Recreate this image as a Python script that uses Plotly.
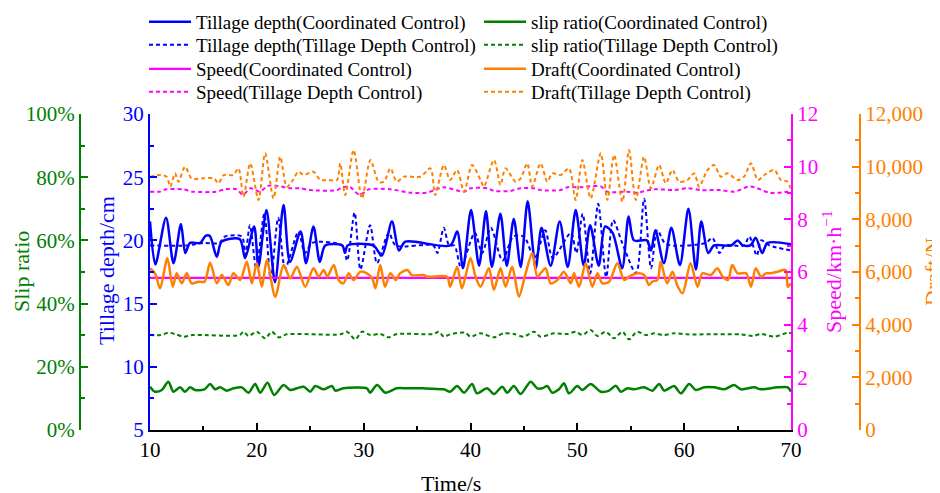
import plotly.graph_objects as go

# ---------------- data ----------------
t_depth_cc = [10.0, 10.5, 11.5, 12.2, 12.9, 13.3, 13.75, 14.7, 15.2, 15.6,
              16.25, 16.7, 18.4, 18.9, 19.75, 20.15, 20.9, 21.7, 22.5, 23.1,
              24.1, 24.6, 25.3, 25.9, 26.4, 28.0, 28.25, 28.5, 30.9, 31.7,
              32.65, 33.3, 33.9, 38.1, 38.75, 39.3, 40.05, 40.8, 41.45, 42.0,
              42.8, 43.4, 44.05, 44.7, 45.35, 46.1, 46.65, 47.5, 48.35, 49.1,
              49.85, 50.6, 51.2, 52.0, 52.6, 53.3, 54.2, 54.8, 55.3, 56.5,
              56.9, 57.3, 58.1, 58.8, 59.6, 60.4, 61.1, 61.6, 62.25, 62.8,
              64.4, 65.0, 65.5, 66.2, 66.7, 67.3, 67.8, 70.0]
depth_cc = [21.5, 18.1, 21.8, 18.2, 21.3, 19.0, 19.8, 19.8, 20.35, 20.35,
            18.7, 19.9, 20.1, 18.6, 21.1, 17.9, 22.4, 16.7, 22.8, 18.3,
            20.7, 18.2, 21.1, 18.3, 19.6, 19.6, 19.0, 19.6, 19.6, 18.8,
            21.5, 19.2, 19.9, 19.6, 20.7, 17.8, 22.4, 18.0, 22.3, 17.9,
            22.1, 18.0, 21.7, 17.9, 23.1, 17.8, 21.0, 18.0, 21.5, 17.9,
            22.4, 18.0, 21.2, 18.0, 21.1, 20.6, 17.8, 21.9, 20.0, 20.0,
            19.2, 20.8, 18.2, 21.0, 18.05, 22.5, 17.7, 21.5, 19.0, 19.6,
            19.6, 20.0, 19.6, 19.6, 20.2, 19.0, 19.8, 19.7]

t_depth_tdc = [10, 13.5, 15.0, 16.5, 17.0, 18.6, 18.9, 19.35, 19.95, 20.7,
               21.3, 22.0, 22.65, 23.9, 24.5, 25.2, 28.0, 28.45, 29.15, 29.7,
               30.6, 31.25, 32.35, 33.0, 36.5, 36.9, 37.5, 38.0, 38.5, 39.1,
               40.4, 41.1, 41.9, 43.0, 44.0, 45.0, 46.0, 47.0, 47.7, 49.4,
               49.9, 50.5, 51.2, 51.95, 52.7, 53.35, 54.2, 55.5, 56.25, 56.9,
               57.5, 58.3, 62.0, 62.65, 63.3, 63.8, 65.6, 66.1, 66.8, 67.2,
               68.0, 70.0]
depth_tdc = [19.6, 19.6, 19.8, 19.8, 20.3, 20.3, 18.6, 21.2, 17.8, 22.1,
             16.9, 21.8, 17.8, 20.7, 19.0, 19.8, 19.6, 18.4, 22.2, 17.7,
             21.2, 18.2, 20.6, 19.6, 19.6, 19.0, 21.0, 19.6, 19.6, 17.9,
             20.6, 19.0, 21.0, 18.4, 20.3, 20.3, 18.6, 20.8, 18.6, 20.6,
             19.0, 22.1, 17.4, 22.9, 17.1, 21.6, 19.8, 17.4, 23.3, 17.8,
             20.8, 19.7, 19.8, 20.2, 19.0, 19.6, 19.6, 20.3, 18.8, 20.0,
             19.6, 19.2]

t_slip_cc = [10.0, 10.47, 11.1, 11.72, 12.19, 12.81, 13.28, 13.75, 14.22, 15.1,
             15.63, 16.1, 16.56, 17.19, 17.81, 18.6, 19.22, 19.84, 20.31, 21.0,
             21.63, 22.5, 23.13, 23.75, 24.38, 25.0, 25.47, 26.25, 27.03, 27.34,
             28.1, 30.3, 30.6, 31.25, 32.03, 33.1, 34.1, 35.5, 37.5, 38.1,
             38.75, 39.4, 40.15, 40.6, 41.56, 42.2, 42.97, 43.44, 44.06, 44.69,
             45.63, 46.25, 46.72, 47.19, 47.65, 48.28, 48.75, 49.22, 50.0, 50.47,
             51.25, 52.19, 52.97, 53.6, 54.06, 54.69, 55.31, 56.25, 57.03, 57.66,
             58.13, 59.06, 59.69, 60.47, 61.09, 61.88, 62.81, 63.75, 64.69, 65.31,
             66.56, 67.19, 68.75, 69.69, 70.0]
slip_cc = [13.71, 12.13, 12.66, 15.3, 12.13, 13.5, 12.13, 13.5, 12.66, 12.87,
           14.56, 12.87, 13.5, 12.45, 13.19, 13.5, 11.81, 14.56, 11.81, 14.98,
           11.08, 14.24, 12.66, 13.19, 13.71, 12.13, 13.92, 12.87, 13.92, 12.45,
           13.19, 13.19, 11.81, 14.24, 11.81, 13.19, 13.19, 13.19, 12.87, 12.13,
           13.92, 11.81, 14.56, 11.6, 13.19, 11.39, 13.71, 11.81, 13.92, 11.39,
           15.3, 13.19, 13.19, 13.92, 11.81, 12.87, 14.77, 11.6, 13.92, 12.66,
           14.56, 12.13, 12.45, 14.03, 12.13, 13.19, 12.87, 13.5, 12.45, 14.56,
           12.45, 13.92, 11.6, 14.56, 12.66, 13.5, 13.5, 12.87, 14.24, 12.87,
           13.5, 12.87, 13.5, 13.5, 12.13]

t_slip_tdc = [10.0, 11.0, 11.72, 12.34, 13.13, 14.0, 18.4, 18.75, 19.22, 20.0,
              20.78, 21.4, 22.03, 22.8, 27.8, 28.44, 29.22, 29.84, 30.63, 31.56,
              32.34, 33.1, 36.56, 37.03, 37.5, 38.1, 39.5, 40.0, 40.94, 42.2,
              43.1, 44.06, 45.0, 45.94, 46.56, 47.8, 49.06, 49.84, 50.47, 51.25,
              51.88, 52.66, 53.44, 54.22, 54.84, 55.6, 56.4, 57.2, 58.1, 59.06,
              60.3, 65.3, 66.4, 67.2, 68.44, 69.7, 70.0]
slip_tdc = [30.06, 30.06, 30.8, 30.38, 29.54, 30.06, 30.06, 31.12, 29.75, 31.12,
            29.0, 31.12, 29.32, 30.27, 30.27, 31.12, 28.69, 31.12, 30.06, 30.38,
            29.32, 30.38, 30.38, 31.12, 29.54, 30.27, 30.8, 29.54, 30.59, 29.32,
            30.59, 30.38, 29.54, 31.12, 29.54, 30.59, 30.38, 31.12, 30.06, 31.65,
            29.75, 31.12, 29.0, 31.12, 28.69, 31.12, 30.06, 30.59, 30.06, 30.59,
            30.27, 30.27, 29.75, 30.38, 29.54, 30.8, 30.6]

t_speed_cc = [10, 20, 30, 40, 50, 60, 70]
speed_cc = [5.78, 5.78, 5.78, 5.78, 5.78, 5.78, 5.78]

t_speed_tdc = [10, 10.9, 11.5, 13.1, 14.0, 16.2, 17.0, 18.1, 18.7, 19.4,
               20.3, 21.0, 21.9, 23.1, 24.0, 25.0, 27.5, 28.0, 28.75, 29.6,
               30.5, 32.5, 34.4, 35.9, 36.6, 37.5, 39.4, 40.0, 41.6, 42.2,
               43.75, 44.7, 45.9, 46.6, 48.4, 49.1, 50.3, 50.9, 52.2, 52.8,
               54.7, 55.5, 57.2, 59.1, 60.3, 61.6, 63.4, 64.7, 66.2, 68.0,
               69.7, 70.0]
speed_tdc = [9.05, 9.05, 9.14, 9.14, 9.05, 9.05, 9.14, 9.14, 8.93, 9.18,
             9.05, 9.27, 9.27, 9.18, 9.18, 9.11, 9.11, 9.22, 9.22, 8.93,
             9.14, 9.14, 9.01, 9.01, 9.11, 9.22, 9.05, 9.18, 9.18, 9.08,
             9.08, 9.18, 9.18, 9.11, 9.11, 9.22, 9.22, 9.25, 9.25, 9.05,
             9.05, 9.01, 9.14, 9.11, 9.18, 9.11, 9.11, 9.05, 9.25, 9.01,
             9.05, 9.08]

t_draft_cc = [10.0, 10.47, 10.94, 11.63, 12.13, 12.5, 12.97, 13.44, 13.9, 14.53,
              15.1, 15.63, 16.25, 16.72, 17.34, 17.81, 18.44, 19.06, 19.53, 20.0,
              20.47, 20.94, 21.72, 22.5, 23.13, 23.75, 24.53, 25.3, 25.8, 26.25,
              26.6, 27.2, 27.65, 28.1, 28.6, 29.05, 29.7, 30.3, 30.8, 31.1,
              31.55, 32.0, 32.5, 33.0, 33.4, 34.1, 34.5, 35.6, 36.0, 37.8,
              38.1, 38.75, 39.2, 40.0, 40.47, 40.94, 41.72, 42.19, 42.81, 43.28,
              43.9, 44.53, 45.16, 45.78, 46.25, 46.56, 47.03, 47.5, 48.13, 48.75,
              49.38, 49.69, 50.16, 50.78, 51.4, 51.88, 52.34, 52.97, 53.75, 54.38,
              54.84, 55.6, 56.25, 56.7, 57.0, 57.5, 57.8, 58.4, 58.9, 59.4,
              59.85, 60.6, 61.25, 61.7, 62.5, 63.1, 63.6, 64.1, 64.5, 65.0,
              65.8, 66.25, 66.7, 67.2, 67.65, 68.1, 68.75, 69.5, 69.7, 70.0]
draft_cc = [6139, 5949, 5379, 6519, 5442, 5949, 5569, 5949, 5569, 5632,
            5632, 6354, 5569, 5885, 5505, 5949, 5695, 6392, 5569, 6329,
            5442, 6455, 5063, 6265, 5759, 6202, 5442, 6139, 5822, 6075,
            5822, 6265, 5695, 5569, 5949, 5695, 6012, 5949, 5759, 5379,
            6265, 5442, 5949, 5695, 5949, 6075, 5885, 5885, 5822, 5822,
            5442, 6202, 5379, 6519, 5822, 5442, 6139, 5316, 6139, 5442,
            6202, 5063, 5949, 6709, 5822, 5949, 6139, 5569, 5695, 6012,
            5569, 5949, 5442, 6329, 5442, 5949, 5569, 5632, 6329, 5695,
            5822, 5949, 5885, 5505, 5632, 5695, 6392, 5569, 6012, 5442,
            5189, 6329, 5442, 5949, 5885, 6139, 5822, 5695, 6265, 5949,
            5949, 5442, 6139, 5822, 5949, 5949, 6012, 6075, 5442, 5569]

t_draft_tdc = [10.0, 11.0, 11.56, 11.9, 12.34, 12.66, 13.28, 13.9, 15.0, 16.0,
               16.4, 16.9, 17.8, 18.28, 18.75, 19.38, 20.16, 20.78, 21.56, 22.19,
               22.81, 23.28, 23.9, 24.38, 25.3, 25.94, 26.6, 27.5, 27.8, 28.28,
               29.06, 29.84, 30.63, 31.4, 31.9, 32.5, 33.1, 33.75, 35.3, 36.25,
               36.7, 37.5, 38.1, 38.75, 39.4, 40.15, 40.94, 41.25, 42.2, 42.81,
               43.28, 44.22, 44.7, 45.31, 45.78, 46.56, 47.19, 47.65, 48.44, 49.22,
               49.84, 50.47, 51.25, 52.19, 52.81, 53.44, 54.22, 54.84, 55.47, 56.25,
               56.88, 57.66, 58.28, 58.9, 59.53, 60.31, 60.94, 61.4, 62.19, 62.81,
               63.44, 64.06, 65.0, 65.6, 66.25, 66.9, 67.5, 68.44, 69.06, 69.69,
               70.0]
draft_tdc = [9619, 9683, 9619, 9239, 9746, 9429, 9999, 9556, 9556, 9556,
             9366, 9683, 9683, 9936, 8859, 10126, 8733, 10506, 8796, 10379,
             9239, 9429, 9809, 9683, 9809, 9493, 9493, 9493, 10126, 8923,
             10632, 8796, 10252, 9429, 9429, 9936, 9429, 9619, 9619, 9936,
             8923, 10063, 9493, 9873, 9049, 10063, 9493, 9239, 10252, 9303,
             9936, 9429, 9556, 10126, 9239, 10126, 9429, 9746, 9683, 9936,
             8733, 10252, 8796, 10506, 8733, 10442, 8670, 10632, 8733, 10379,
             9176, 10063, 9366, 9873, 9429, 9493, 9746, 9239, 9873, 10063,
             9619, 9746, 9493, 9619, 10126, 9493, 9683, 9873, 9493, 9429,
             9049]

BLUE = "#0000FF"
GREEN = "#008000"
MAGENTA = "#FF00FF"
ORANGE = "#FF8000"
FONT = "Liberation Serif"
DOT = "4px,3px"

# The page body has an 8px margin, so the figure is drawn 8px smaller
# and all positions (given in window pixels) are shifted by that margin.
OFF = 8
W, H = 940 - OFF, 493 - OFF
X0, X1 = 150, 791
YT, YB = 114, 430


def px(x):
    return (x - OFF) / W


def py(y):
    return 1 - (y - OFF) / H


fig = go.Figure()


def add(t, v, name, color, yaxis, dash, width, legend):
    fig.add_trace(go.Scatter(
        x=t, y=v, name=name, mode="lines", yaxis=yaxis, legend=legend,
        line=dict(color=color, width=width, dash=dash, shape="spline", smoothing=0.8),
    ))


add(t_depth_cc, depth_cc, "Tillage depth(Coordinated Control)", BLUE, "y", "solid", 2.5, "legend")
add(t_slip_cc, slip_cc, "slip ratio(Coordinated Control)", GREEN, "y2", "solid", 2.5, "legend")
add(t_depth_tdc, depth_tdc, "Tillage depth(Tillage Depth Control)", BLUE, "y", DOT, 2.0, "legend2")
add(t_slip_tdc, slip_tdc, "slip ratio(Tillage Depth Control)", GREEN, "y2", DOT, 2.0, "legend2")
add(t_speed_cc, speed_cc, "Speed(Coordinated Control)", MAGENTA, "y3", "solid", 2.2, "legend3")
add(t_draft_cc, draft_cc, "Draft(Coordinated Control)", ORANGE, "y4", "solid", 2.5, "legend3")
add(t_speed_tdc, speed_tdc, "Speed(Tillage Depth Control)", MAGENTA, "y3", DOT, 2.0, "legend4")
add(t_draft_tdc, draft_tdc, "Draft(Tillage Depth Control)", ORANGE, "y4", DOT, 2.0, "legend4")

tickfont = lambda c: dict(family=FONT, size=21, color=c)


def yax(color, rng, dtick, minor, **kw):
    d = dict(
        range=rng, dtick=dtick, domain=[py(YB), py(YT)], automargin=False,
        showgrid=False, zeroline=False, showline=True, linecolor=color, linewidth=2,
        ticks="inside", ticklen=7, tickwidth=1.5, tickcolor=color,
        tickfont=tickfont(color),
        minor=dict(dtick=minor, ticks="inside", ticklen=4, tickwidth=1.5, tickcolor=color, showgrid=False),
    )
    d.update(kw)
    return d


leg_common = dict(
    orientation="h", entrywidth=278, itemwidth=42, x=px(144), xanchor="left",
    yanchor="middle", font=dict(family=FONT, size=19, color="black"),
    bgcolor="rgba(0,0,0,0)", borderwidth=0, tracegroupgap=0,
)

fig.update_layout(
    width=W, height=H,
    margin=dict(l=0, r=0, t=0, b=0, autoexpand=False),
    paper_bgcolor="white", plot_bgcolor="white",
    font=dict(family=FONT),
    showlegend=True,
    legend=dict(leg_common, y=py(22)),
    legend2=dict(leg_common, y=py(45)),
    legend3=dict(leg_common, y=py(69)),
    legend4=dict(leg_common, y=py(92)),
    xaxis=dict(
        range=[10, 70], dtick=10, domain=[px(X0), px(X1)], automargin=False,
        showgrid=False, zeroline=False, showline=True, linecolor="black", linewidth=1.5,
        ticks="inside", ticklen=7, tickwidth=1.5, tickcolor="black",
        tickfont=tickfont("black"),
        minor=dict(dtick=5, ticks="inside", ticklen=4, tickwidth=1.5, tickcolor="black", showgrid=False),
    ),
    yaxis=yax(BLUE, [5, 30], 5, 2.5, anchor="x", side="left"),
    yaxis2=yax(GREEN, [0, 100], 20, 10, overlaying="y", anchor="free", side="left",
               position=px(80), ticksuffix="%"),
    yaxis3=yax(MAGENTA, [0, 12], 2, 1, overlaying="y", anchor="x", side="right"),
    yaxis4=yax(ORANGE, [0, 12000], 2000, 1000, overlaying="y", anchor="free", side="right",
               position=px(860), tickformat=","),
)

titles = [
    ("Time/s", 451, 483, 0, "black"),
    ("Tillage depth/cm", 106, 271, -90, BLUE),
    ("Slip ratio", 21, 272, -90, GREEN),
    ("Speed/km·h<sup>−1</sup>", 832, 272, -90, MAGENTA),
    ("Draft/N", 932, 272, -90, ORANGE),
]
for text, x, y, ang, c in titles:
    fig.add_annotation(text=text, x=px(x), y=py(y), xref="paper", yref="paper",
                       showarrow=False, textangle=ang, xanchor="center", yanchor="middle",
                       font=dict(family=FONT, size=22, color=c))

fig.write_html("out.html")
